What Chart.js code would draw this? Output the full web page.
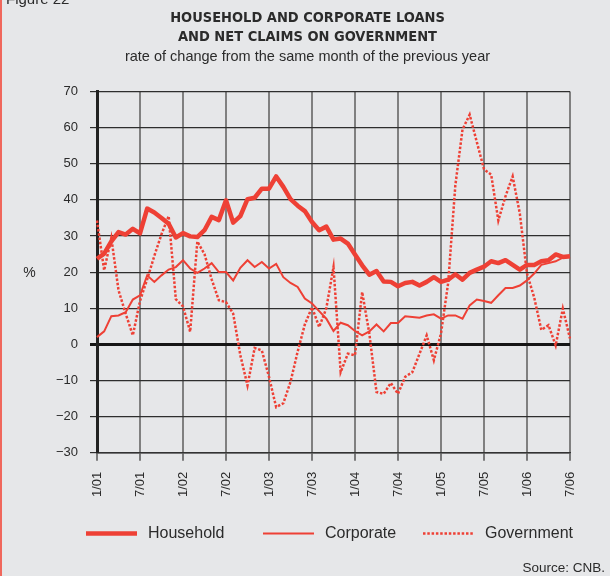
<!DOCTYPE html>
<html>
<head>
<meta charset="utf-8">
<title>Household and corporate loans and net claims on government</title>
<script src="https://cdn.jsdelivr.net/npm/chart.js@4.4.1/dist/chart.umd.min.js"></script>
<style>
  html, body { margin: 0; padding: 0; background: #e6e7e9; }
  canvas { display: block; }
</style>
</head>
<body>
<canvas id="loansChart" width="610" height="576"></canvas>
<script>
// y/y rate of change, monthly from 1/01 to 7/06
const firstYear = 1;
const monthCount = 67;
const tickLabels = ['1/01', '7/01', '1/02', '7/02', '1/03', '7/03', '1/04', '7/04', '1/05', '7/05', '1/06', '7/06'];

const household = [
    23.7, 25.1, 28.5, 31.1, 30.4, 32.0, 30.7, 37.6, 36.5, 35.0, 33.4, 29.6,
    30.8, 29.9, 29.7, 31.6, 35.3, 34.4, 39.9, 33.7, 35.5, 40.2, 40.6, 43.1,
    43.1, 46.5, 43.6, 40.2, 38.4, 36.9, 33.9, 31.6, 32.6, 29.0, 29.3, 27.9,
    24.9, 21.9, 19.3, 20.3, 17.4, 17.3, 16.1, 17.0, 17.3, 16.3, 17.3, 18.6,
    17.3, 17.9, 19.4, 17.9, 19.8, 20.7, 21.5, 23.0, 22.5, 23.3, 22.0, 20.7,
    22.0, 22.0, 23.0, 23.3, 24.9, 24.2, 24.4
];
const corporate = [
    2.0, 3.6, 7.8, 8.0, 8.9, 12.4, 13.6, 19.1, 17.3, 19.1, 20.7, 21.4,
    23.3, 21.0, 19.8, 21.0, 22.5, 20.0, 20.0, 17.7, 21.2, 23.3, 21.4, 22.8,
    21.0, 22.3, 18.6, 17.0, 15.9, 12.7, 11.3, 9.2, 7.1, 3.7, 6.0, 5.3,
    3.7, 2.5, 3.6, 5.5, 3.6, 5.9, 5.9, 7.8, 7.6, 7.4, 8.0, 8.3,
    7.1, 8.0, 8.0, 7.1, 10.8, 12.4, 12.0, 11.5, 13.6, 15.6, 15.6, 16.3,
    17.7, 19.6, 22.0, 22.5, 23.0, 24.0, 24.2
];
const government = [
    34.3, 20.5, 29.5, 15.0, 8.5, 2.5, 12.0, 18.0, 24.5, 30.5, 35.5, 12.5,
    10.5, 3.5, 28.5, 25.0, 18.0, 12.2, 11.7, 8.5, -3.0, -11.4, -1.0, -1.7,
    -9.0, -17.4, -16.3, -10.4, -2.0, 5.5, 10.3, 4.8, 10.0, 21.4, -7.7, -2.6,
    -3.0, 14.5, 3.0, -13.2, -13.7, -10.7, -13.7, -9.0, -7.7, -2.6, 2.5, -4.4,
    3.0, 17.0, 44.0, 59.5, 63.6, 56.0, 48.5, 47.0, 34.3, 41.0, 46.5, 36.2,
    19.6, 13.0, 4.0, 5.3, -0.3, 9.9, 1.6
];

const yMin = -30, yMax = 70, yStep = 10;

const months = [];
for (let i = 0; i < monthCount; i++) {
    const yy = String(firstYear + Math.floor(i / 12)).padStart(2, '0');
    months.push((i % 12 + 1) + '/' + yy);
}

const RED = '#ee4035';
const INK = '#2b2b2b';
const SANS = "'Liberation Sans', Arial, sans-serif";
const NARROW = "'Liberation Sans Narrow', 'Arial Narrow', 'DejaVu Sans Condensed', sans-serif";

Chart.defaults.font.family = SANS;
Chart.defaults.color = INK;

// page furniture: legend, unit, source, page rule
const extras = {
    id: 'extras',
    afterDraw(chart) {
        const { ctx } = chart;
        const y = chart.scales.y;
        ctx.save();

        ctx.fillStyle = '#f0675c';
        ctx.fillRect(0, 0, 2, chart.height);

        ctx.fillStyle = INK;
        ctx.font = '15px ' + SANS;
        ctx.textAlign = 'left';
        ctx.textBaseline = 'alphabetic';
        ctx.fillText('Figure 22', 6, 4);

        ctx.font = '14px ' + SANS;
        ctx.textAlign = 'center';
        ctx.textBaseline = 'middle';
        ctx.fillText('%', 29.5, y.getPixelForValue(20) + 1.5);

        const legendY = 533.5;
        const sampleX = [86, 263, 423];
        chart.data.datasets.forEach((ds, i) => {
            ctx.strokeStyle = ds.borderColor;
            ctx.lineWidth = ds.borderWidth;
            ctx.setLineDash(ds.borderDash || []);
            ctx.beginPath();
            ctx.moveTo(sampleX[i], legendY);
            ctx.lineTo(sampleX[i] + 51, legendY);
            ctx.stroke();
            ctx.setLineDash([]);
            ctx.font = '16px ' + SANS;
            ctx.textAlign = 'left';
            ctx.fillText(ds.label, sampleX[i] + 62, legendY);
        });

        ctx.font = '13.5px ' + SANS;
        ctx.textAlign = 'right';
        ctx.textBaseline = 'alphabetic';
        ctx.fillText('Source: CNB.', 605, 572);
        ctx.restore();
    }
};

new Chart(document.getElementById('loansChart'), {
    type: 'line',
    data: {
        labels: months,
        datasets: [
            { label: 'Household', data: household, borderColor: RED, borderWidth: 4.5, borderJoinStyle: 'round' },
            { label: 'Corporate', data: corporate, borderColor: RED, borderWidth: 2 },
            { label: 'Government', data: government, borderColor: RED, borderWidth: 2.5, borderDash: [2.5, 1.8] }
        ]
    },
    options: {
        responsive: false,
        animation: false,
        devicePixelRatio: 1,
        layout: { padding: { left: 45, right: 40, top: 0, bottom: 68 } },
        elements: { point: { radius: 0 }, line: { tension: 0 } },
        plugins: {
            legend: { display: false },
            tooltip: { enabled: false },
            title: {
                display: true,
                text: ['HOUSEHOLD AND CORPORATE LOANS', 'AND NET CLAIMS ON GOVERNMENT'],
                color: INK,
                font: { family: NARROW, size: 14.5, weight: 'bold', lineHeight: 1.35 },
                padding: { top: 8, bottom: 0 }
            },
            subtitle: {
                display: true,
                text: 'rate of change from the same month of the previous year',
                color: INK,
                font: { family: SANS, size: 14.5, lineHeight: 1.2 },
                padding: { top: 1, bottom: 26 }
            }
        },
        scales: {
            x: {
                ticks: {
                    autoSkip: false,
                    minRotation: 90,
                    maxRotation: 90,
                    padding: 11,
                    font: { size: 13 },
                    callback: function (v) {
                        const lab = this.getLabelForValue(v);
                        return tickLabels.includes(lab) ? lab : null;
                    }
                },
                grid: {
                    color: ctx => ctx.index === monthCount - 1 ? '#4a4a4a' : '#808080',
                    lineWidth: 2,
                    tickLength: 8,
                    tickColor: '#555',
                    tickWidth: 1.5
                },
                border: { color: '#333', width: 1.5 }
            },
            y: {
                min: yMin,
                max: yMax,
                afterFit(scale) { scale.width = 52; },
                ticks: {
                    stepSize: yStep,
                    padding: 12,
                    font: { size: 13 },
                    callback: v => String(v).replace('-', '\u2212')
                },
                grid: {
                    color: ctx => ctx.tick && ctx.tick.value === 0 ? '#161616' : '#2e2e2e',
                    lineWidth: ctx => ctx.tick && ctx.tick.value === 0 ? 3 : 1.2,
                    tickLength: 7
                },
                border: { color: '#222', width: 3 }
            }
        }
    },
    plugins: [extras]
});
</script>
</body>
</html>
